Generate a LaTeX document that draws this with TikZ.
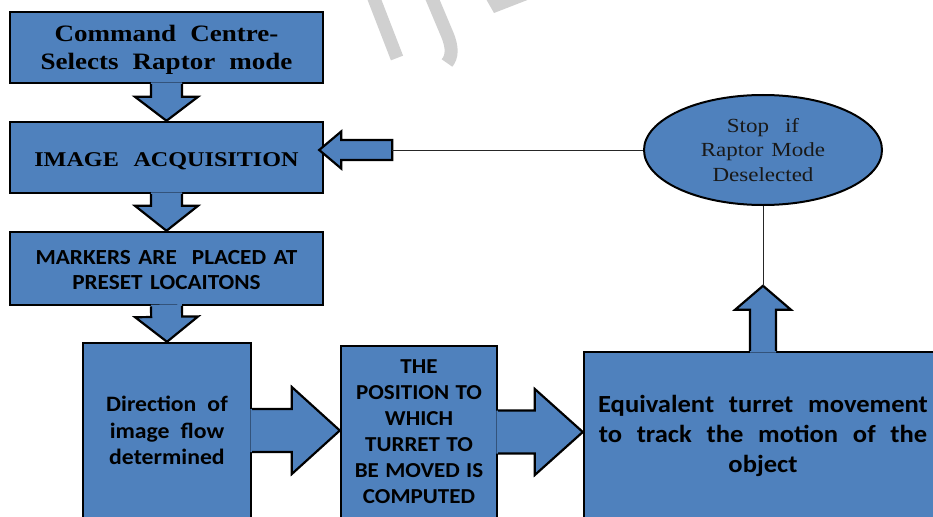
\documentclass[tikz,border=0pt]{standalone}
\usepackage{fontspec}
\usetikzlibrary{calc,shapes.geometric}

\newfontfamily\timesfont[FakeStretch=1.15]{Liberation Serif}
\newfontfamily\calfont[FakeStretch=1.08]{Carlito}

\definecolor{boxblue}{HTML}{4F81BD}
\definecolor{markgray}{HTML}{D0D0D0}

% text styles
\newcommand\headtype{\timesfont\bfseries\fontsize{23.5}{28}\selectfont\spaceskip=0.6em\relax}
\newcommand\acqtype{\timesfont\bfseries\fontsize{21}{26}\selectfont\spaceskip=0.7em\relax}
\newcommand\stoptype{\timesfont\fontsize{20}{24.5}\selectfont\spaceskip=0.4em\relax}
\newcommand\captype{\calfont\bfseries\fontsize{21.5}{25.5}\selectfont\spaceskip=0.35em\relax}
\newcommand\midtype{\calfont\bfseries\fontsize{22}{26.5}\selectfont\spaceskip=0.5em\relax}
\newcommand\postype{\calfont\bfseries\fontsize{21.3}{26}\selectfont\spaceskip=0.3em\relax}
\newcommand\bigtype{\calfont\bfseries\fontsize{24.6}{30}\selectfont\spaceskip=0.6em\relax}
% extra room above a first line, to seat the text a little lower in its box
\newcommand\lowerby[1]{\rule{0pt}{#1}}

% corner points of a block arrow from #1 to #2:
% shaft half width #3, head half width #4, head length #5
\newcommand\arrowpoints[5]{%
  \coordinate (ba-h) at ($(#2)!#5pt!(#1)$);
  \coordinate (ba-1) at ($(#1)!#3pt!90:(#2)$);
  \coordinate (ba-2) at ($(ba-h)!#3pt!90:(#2)$);
  \coordinate (ba-3) at ($(ba-h)!#4pt!90:(#2)$);
  \coordinate (ba-4) at (#2);
  \coordinate (ba-5) at ($(ba-h)!#4pt!-90:(#2)$);
  \coordinate (ba-6) at ($(ba-h)!#3pt!-90:(#2)$);
  \coordinate (ba-7) at ($(#1)!#3pt!-90:(#2)$);
}
% block arrow growing out of a box (open at its base)
\newcommand\boxarrow[5]{%
  \arrowpoints{#1}{#2}{#3}{#4}{#5}
  \fill[boxblue] ($(ba-1)!-1.8pt!(ba-2)$) -- (ba-2) -- (ba-3) -- (ba-4) -- (ba-5) -- (ba-6) -- ($(ba-7)!-1.8pt!(ba-6)$) -- cycle;
  \draw[arrowedge] (ba-1) -- (ba-2) -- (ba-3) -- (ba-4) -- (ba-5) -- (ba-6) -- (ba-7);
}
% free standing block arrow
\newcommand\freearrow[5]{%
  \arrowpoints{#1}{#2}{#3}{#4}{#5}
  \filldraw[arrowedge, fill=boxblue] (ba-1) -- (ba-2) -- (ba-3) -- (ba-4) -- (ba-5) -- (ba-6) -- (ba-7) -- cycle;
}

\tikzset{
  stage/.style={draw=black, fill=boxblue, line width=2.4pt, inner sep=0pt,
    align=center, text=black},
  stopshape/.style={ellipse, draw=black, fill=boxblue, line width=2pt,
    inner sep=0pt, align=center, text=black!90,
    minimum width=238, minimum height=110},
  arrowedge/.style={draw=black, line width=2.2pt, line join=miter},
  link/.style={draw=black!85, line width=0.9pt},
  faintstroke/.style={draw=markgray, line width=13pt},
}

\begin{document}
\begin{tikzpicture}[x=1pt, y=-1pt]
\useasboundingbox (0,0) rectangle (933,516);
\clip (0,0) rectangle (933,516);

% faint lettering behind the chart
\draw[faintstroke] (373,-4) -- (397,58);
\draw[faintstroke] (431,-4) -- (447,34) .. controls (453,48) and (452,57) .. (447,63);
\fill[markgray] (486,-1) -- (530,-1) -- (494,13) -- cycle;

% process boxes
\node[stage, minimum width=313, minimum height=71, font=\headtype] (cmd) at (166.5,47.5)
  {\lowerby{22pt}Command Centre-\\Selects Raptor mode};
\node[stage, minimum width=313, minimum height=71, font=\acqtype] (acq) at (166.5,157.5)
  {\lowerby{22pt}IMAGE ACQUISITION};
\node[stage, minimum width=313, minimum height=73, font=\captype] (markers) at (166.5,268.5)
  {\lowerby{17pt}MARKERS ARE \ PLACED AT\\PRESET LOCAITONS};
\node[stage, minimum width=168, minimum height=175, font=\midtype] (dir) at (167,430.5)
  {Direction of\\image flow\\determined};
\node[stage, minimum width=156, minimum height=172, font=\postype] (pos) at (419,432)
  {THE\\POSITION TO\\WHICH\\TURRET TO\\BE MOVED IS\\COMPUTED};
\node[stage, minimum width=358, minimum height=168, font=\bigtype] (track) at (763,436)
  {Equivalent turret movement\\to track the motion of the\\object};

% stop condition
\node[stopshape, font=\stoptype] (stop) at (763,150)
  {Stop \ if\\Raptor Mode\\Deselected};

% arrow ends that are not on a box
\coordinate (uptip) at ($(track.north)+(0,-65)$);
\coordinate (fbtip) at ([xshift=-5pt]acq.east |- stop.west);
\coordinate (fbtail) at ([xshift=73pt]fbtip);

% block arrows between the stages
\boxarrow{cmd.south}{acq.north}{15.5}{31.5}{24}
\boxarrow{acq.south}{markers.north}{15.5}{31.5}{25}
\boxarrow{markers.south}{dir.north}{15.5}{31.5}{25}
\boxarrow{dir.east}{dir.east -| pos.west}{21.5}{43.5}{48}
\boxarrow{pos.east}{pos.east -| track.west}{21.5}{43}{48}
\boxarrow{track.north}{uptip}{13}{28}{24}
\freearrow{fbtail}{fbtip}{10}{18.5}{22}

% thin connectors through the stop condition
\draw[link] (uptip) -- (stop.south);
\draw[link] (stop.west) -- (fbtail);
\end{tikzpicture}
\end{document}
